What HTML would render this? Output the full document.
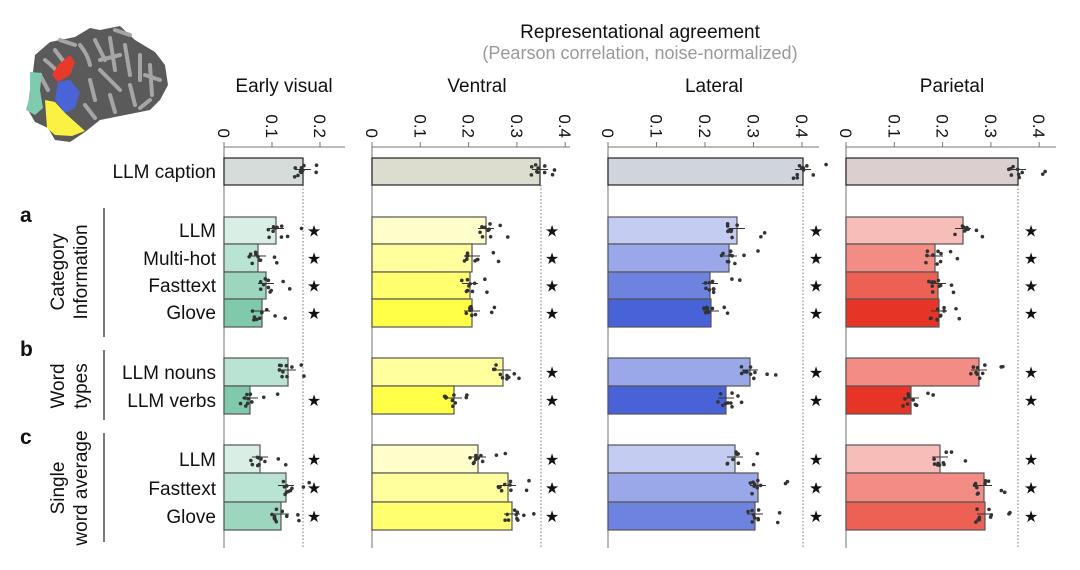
<!DOCTYPE html>
<html><head><meta charset="utf-8"><style>
body{margin:0;background:#fff;width:1080px;height:565px;overflow:hidden}
text{font-family:"Liberation Sans",sans-serif}
</style></head><body>
<svg id="s" width="1080" height="565" viewBox="0 0 1080 565" xmlns="http://www.w3.org/2000/svg">
<g>
<path d="M35,55 L50,42 L75,37 L90,28 L100,30 L120,26 L135,40 L155,52 L165,65 L168,85 L160,100 L150,110 L125,115 L100,120 L85,132 L70,142 L55,140 L48,128 L35,122 L28,110 L30,90 L33,72 Z" fill="#5a5a5a"/>
<g stroke="#a5a5a5" stroke-width="4" fill="none" stroke-linecap="round">
<path d="M45,60 Q55,68 60,75 M55,50 L70,70 M80,45 Q88,55 90,65 M95,40 L105,60 M110,38 L115,70 M125,45 L130,75 M140,55 L140,80 M150,65 L152,95 M100,70 L120,90 M130,85 L135,105 M110,95 L115,112 M90,80 L95,100 M150,100 L140,108 M40,75 L48,90 M120,55 L100,60 M85,105 L95,118 M60,40 L75,45 M145,75 L160,80 M115,30 L130,35"/>
</g>
<path d="M58,65 L70,55 L75,62 L70,75 L58,82 L52,75 Z" fill="#e83a2a"/>
<path d="M58,82 L70,80 L80,92 L75,108 L65,113 L55,100 Z" fill="#4a63d6"/>
<path d="M30,72 L42,73 L40,90 L43,108 L35,115 L26,110 L30,95 Z" fill="#7ecbae"/>
<path d="M45,100 L55,102 L65,113 L85,131 L72,136 L55,135 L47,128 Z" fill="#fbf142"/>
</g>
<text x="640" y="38" font-size="19" text-anchor="middle" fill="#111">Representational agreement</text>
<text x="640" y="59" font-size="18" text-anchor="middle" fill="#999">(Pearson correlation, noise-normalized)</text>
<g font-size="19" fill="#111" text-anchor="middle">
<text x="284" y="92">Early visual</text><text x="477" y="92">Ventral</text><text x="714" y="92">Lateral</text><text x="952" y="92">Parietal</text>
</g>
<g font-size="19" fill="#111" text-anchor="end">
<text x="216" y="178">LLM caption</text>
<text x="216" y="237">LLM</text><text x="216" y="265">Multi-hot</text><text x="216" y="292">Fasttext</text><text x="216" y="319">Glove</text>
<text x="216" y="379">LLM nouns</text><text x="216" y="407">LLM verbs</text>
<text x="216" y="466">LLM</text><text x="216" y="495">Fasttext</text><text x="216" y="523">Glove</text>
</g>
<g font-size="21" font-weight="bold" fill="#111">
<text x="20" y="222">a</text><text x="20" y="356">b</text><text x="20" y="444">c</text>
</g>
<g font-size="19" fill="#111" text-anchor="middle">
<text transform="translate(64,272) rotate(-90)">Category</text>
<text transform="translate(87,272) rotate(-90)">Information</text>
<text transform="translate(64,386) rotate(-90)">Word</text>
<text transform="translate(87,386) rotate(-90)">types</text>
<text transform="translate(64,488) rotate(-90)">Single</text>
<text transform="translate(87,488) rotate(-90)">word average</text>
</g>
<g stroke="#222" stroke-width="1.2">
<line x1="104" y1="208" x2="104" y2="337"/><line x1="104" y1="350" x2="104" y2="420"/><line x1="104" y1="433" x2="104" y2="542"/>
</g>
<g id="plots"></g>
</svg>
<script>
var P=[
 {x0:224,sc:480,ext:345,ceil:303,cap:'#d6dcd9',cols:['#d9efe6','#b9e3d3','#9dd6bf','#80c9ab'],star:314,
  v:[303,276,258,266,262,288,250,260,286,281],stars:[0,1,1,1,1,0,1,1,1,1],ticks:[0,0.1,0.2]},
 {x0:372,sc:483,ext:570,ceil:541,cap:'#dcdccf',cols:['#ffffcc','#ffff9e','#ffff70','#ffff48'],star:552,
  v:[540,486,472,470,472,503,454,478,508,512],stars:[0,1,1,1,1,1,1,1,1,1],ticks:[0,0.1,0.2,0.3,0.4]},
 {x0:608,sc:485,ext:819,ceil:803,cap:'#d0d4dd',cols:['#c4ccf2','#9aa8e9','#6e83df','#4863d8'],star:816,
  v:[803,737,729,710,711,750,726,735,758,755],stars:[0,1,1,1,1,1,1,1,1,1],ticks:[0,0.1,0.2,0.3,0.4]},
 {x0:846,sc:483,ext:1056,ceil:1018,cap:'#dccfcf',cols:['#f7bdb8','#f28c84','#ed6054','#e63426'],star:1031,
  v:[1018,963,935,938,939,979,911,940,984,985],stars:[0,1,1,1,1,1,1,1,1,1],ticks:[0,0.1,0.2,0.3,0.4]}
];
var rows=[[158,185,-1],[217,244,0],[244,272,1],[272,299,2],[299,327,3],[358,386,1],[386,414,3],[445,473,0],[473,502,1],[502,530,2]];
var s='';var seed=7;function r(){seed=(seed*9301+49297)%233280;return seed/233280;}
P.forEach(function(p){
 s+='<line x1="'+p.x0+'" y1="147" x2="'+p.ext+'" y2="147" stroke="#777" stroke-width="1"/>';
 s+='<line x1="'+p.x0+'" y1="147" x2="'+p.x0+'" y2="548" stroke="#888" stroke-width="1.2"/>';
 s+='<line x1="'+p.ceil+'" y1="185" x2="'+p.ceil+'" y2="548" stroke="#777" stroke-width="1" stroke-dasharray="1.5,2"/>';
 p.ticks.forEach(function(t){var x=p.x0+t*p.sc;
  s+='<line x1="'+x+'" y1="142" x2="'+x+'" y2="147" stroke="#777"/>';
  s+='<text transform="translate('+(x-6)+',138) rotate(90)" text-anchor="end" font-size="17" fill="#111">'+(t==0?'0':t.toFixed(1))+'</text>';});
 rows.forEach(function(rw,i){var w=p.v[i]-p.x0;var c=rw[2]<0?p.cap:p.cols[rw[2]];
  s+='<rect x="'+p.x0+'" y="'+rw[0]+'" width="'+w+'" height="'+(rw[1]-rw[0])+'" fill="'+c+'" stroke="'+(i==0?'#222':'#555')+'" stroke-width="1.2"/>';
  var cy=(rw[0]+rw[1])/2;
  s+='<line x1="'+(p.v[i]-8)+'" y1="'+(cy-2)+'" x2="'+(p.v[i]+8)+'" y2="'+(cy-2)+'" stroke="#333" stroke-width="1"/>';
  for(var k=0;k<10;k++){var dx=(r()-0.6)*16;if(k>7)dx=10+r()*20;
   s+='<circle cx="'+(p.v[i]+dx)+'" cy="'+(cy+(r()-0.5)*14)+'" r="1.8" fill="#333"/>';}
  if(p.stars[i])s+='<text x="'+p.star+'" y="'+(cy+6)+'" font-size="16" text-anchor="middle" fill="#111">★</text>';
 });
});
document.getElementById('plots').innerHTML=s;
</script>
</body></html>
